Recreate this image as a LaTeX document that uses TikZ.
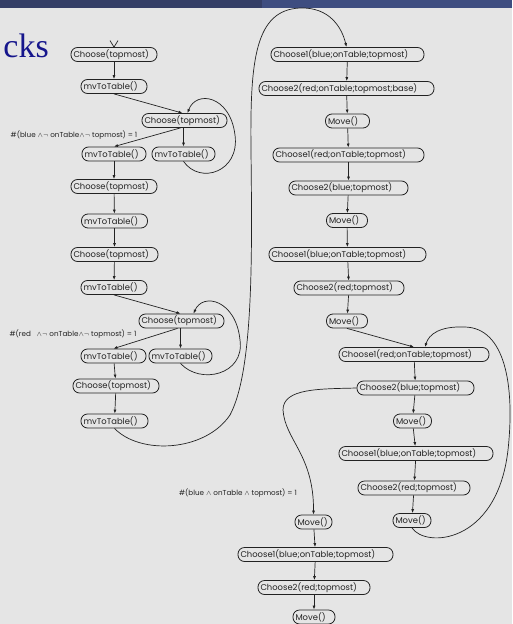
\documentclass[tikz,border=0pt]{standalone}
\usepackage{fontspec}
\newfontfamily\nodefont{Poppins}
\newfontfamily\titlefont{Liberation Serif}
\usetikzlibrary{arrows.meta}
\definecolor{slidebg}{HTML}{E5E5E5}
\definecolor{barleft}{HTML}{343E66}
\definecolor{barright}{HTML}{3E4D80}
\definecolor{titleblue}{RGB}{22,22,140}
\definecolor{ink}{HTML}{222222}

\tikzset{
  state/.style={draw=ink, line width=0.8pt, rounded corners=6.5pt,
    minimum height=14pt, inner xsep=2.5pt, inner ysep=0pt,
    text width=#1, align=left, font=\nodefont\fontsize{8.4}{9}\selectfont,
    text=ink},
  guard/.style={font=\nodefont\fontsize{7.2}{8}\selectfont, text=ink, inner sep=0pt},
  flow/.style={draw=ink, line width=0.7pt, -{Latex[length=4pt,width=3pt]}},
}

\begin{document}
\begin{tikzpicture}[x=1pt,y=-1pt]
  % slide background and header strip
  \fill[slidebg] (0,0) rectangle (512,624);
  \useasboundingbox (0,0) rectangle (512,624);
  \fill[barleft] (0,0) rectangle (262,7.5);
  \fill[barright] (262,0) rectangle (512,7.5);
  \clip (0,0) rectangle (512,624);

  % tail of the slide title
  \node[anchor=base east, text=titleblue, font=\titlefont\fontsize{34}{40}\selectfont, inner sep=0pt] (title) at (49,57) {cks};

  % left column: unstacking with mvToTable
  \node[state=81pt] (L1) at (114,54.5) {Choose(topmost)};
  \node[state=61pt] (L2) at (114,86.5) {mvToTable()};
  \node[state=80pt] (L3) at (184.5,120.5) {Choose(topmost)};
  \node[state=59pt] (L4) at (114,154) {mvToTable()};
  \node[state=58pt] (L5) at (183.5,154) {mvToTable()};
  \node[state=81pt] (L6) at (114,186.5) {Choose(topmost)};
  \node[state=61pt] (L7) at (114.5,221) {mvToTable()};
  \node[state=82pt] (L8) at (114.5,254.5) {Choose(topmost)};
  \node[state=61pt] (L9) at (114,287.5) {mvToTable()};
  \node[state=80pt] (L10) at (181.5,321) {Choose(topmost)};
  \node[state=60pt] (L11) at (113.5,356) {mvToTable()};
  \node[state=58pt] (L12) at (180.5,356) {mvToTable()};
  \node[state=81pt] (L13) at (116,386) {Choose(topmost)};
  \node[state=62pt] (L14) at (114.5,421) {mvToTable()};

  % right column: building the tower
  \node[state=148pt] (R1) at (347.5,54.5) {Choose1(blue;onTable;topmost)};
  \node[state=170pt] (R2) at (346.5,88.5) {Choose2(red;onTable;topmost;base)};
  \node[state=39pt] (R3) at (347.5,121) {Move()};
  \node[state=146pt] (R4) at (348.5,155) {Choose1(red;onTable;topmost)};
  \node[state=114pt] (R5) at (348.5,188) {Choose2(blue;topmost)};
  \node[state=36pt] (R6) at (347,220.5) {Move()};
  \node[state=152pt] (R7) at (347.5,254.5) {Choose1(blue;onTable;topmost)};
  \node[state=105pt] (R8) at (349,288) {Choose2(red;topmost)};
  \node[state=36pt] (R9) at (347,321) {Move()};
  \node[state=145pt] (R10) at (414,354.5) {Choose1(red;onTable;topmost)};
  \node[state=112pt] (R11) at (415.5,388) {Choose2(blue;topmost)};
  \node[state=33pt] (R12) at (412.5,421) {Move()};
  \node[state=149pt] (R13) at (416,453.5) {Choose1(blue;onTable;topmost)};
  \node[state=107pt] (R14) at (414,488) {Choose2(red;topmost)};
  \node[state=33pt] (R15) at (412,520.5) {Move()};

  % bottom branch
  \node[state=32pt] (B1) at (313.5,522) {Move()};
  \node[state=150pt] (B2) at (315.5,554.5) {Choose1(blue;onTable;topmost)};
  \node[state=107pt] (B3) at (314,587.5) {Choose2(red;topmost)};
  \node[state=37pt] (B4) at (314,617) {Move()};

  % guards
  \node[guard] (g1) at (74,135) {\#(blue $\land\lnot$ onTable$\land\lnot$ topmost) = 1};
  \node[guard] (g2) at (73,334) {\#(red \ \ $\land\lnot$ onTable$\land\lnot$ topmost) = 1};
  \node[guard] (g3) at (238,493) {\#(blue $\land$ onTable $\land$ topmost) = 1};

  % initial marker
  \draw[ink, line width=0.7pt] ([xshift=-4pt,yshift=6.5pt]L1.north) -- (L1.north) -- ([xshift=4pt,yshift=6.5pt]L1.north);

  % left column transitions
  \draw[flow] (L1) -- (L2);
  \draw[flow] (L2.south) -- ([xshift=-2pt]L3.north);
  \draw[flow] ([xshift=-4pt]L3.south) -- (L4.north);
  \draw[flow] (L3.south -| L5) -- (L5);
  \draw[flow] (L5.south) .. controls (200,185) and (240,172) .. (235,135)
                         .. controls (230,95) and (196,90) .. ([xshift=3pt]L3.north);
  \draw[flow] (L4) -- (L6);
  \draw[flow] (L6) -- (L7);
  \draw[flow] (L7) -- (L8);
  \draw[flow] (L8) -- (L9);
  \draw[flow] (L9.south) -- ([xshift=-1pt]L10.north);
  \draw[flow] ([xshift=-4pt]L10.south) -- (L11.north);
  \draw[flow] (L10.south -| L12) -- (L12);
  \draw[flow] (L12.south) .. controls (200,385) and (245,375) .. (240,340)
                          .. controls (236,300) and (203,292) .. ([xshift=12pt]L10.north);
  \draw[flow] (L11) -- (L13);
  \draw[flow] (L13) -- (L14);

  % hand-over to the right column
  \draw[flow] (L14.south) .. controls (140,455) and (205,452) .. (230,415)
                          .. controls (254,370) and (252,250) .. (251,150)
                          .. controls (250,60) and (255,10) .. (300,8)
                          .. controls (330,7) and (342,28) .. ([xshift=-1pt]R1.north);

  % right column transitions
  \draw[flow] (R1) -- (R2);
  \draw[flow] (R2) -- (R3);
  \draw[flow] (R3) -- (R4);
  \draw[flow] (R4) -- (R5);
  \draw[flow] (R5) -- (R6);
  \draw[flow] (R6) -- (R7);
  \draw[flow] (R7) -- (R8);
  \draw[flow] (R8) -- (R9);
  \draw[flow] (R9.south) -- (R10.north);
  \draw[flow] (R10) -- (R11);
  \draw[flow] (R11) -- (R12);
  \draw[flow] (R12) -- (R13);
  \draw[flow] (R13) -- (R14);
  \draw[flow] (R14) -- (R15);
  \draw[flow] (R15.south) .. controls (425,548) and (497,545) .. (508,450)
                          .. controls (515,385) and (505,328) .. (465,327)
                          .. controls (440,326) and (429,334) .. ([xshift=11pt]R10.north);

  % branch to the bottom sequence
  \draw[flow] (R11.west) .. controls (320,389) and (283,388) .. (283,410)
                         .. controls (285,440) and (314,455) .. (B1.north);
  \draw[flow] (B1) -- (B2);
  \draw[flow] (B2) -- (B3);
  \draw[flow] (B3) -- (B4);
\end{tikzpicture}
\end{document}
